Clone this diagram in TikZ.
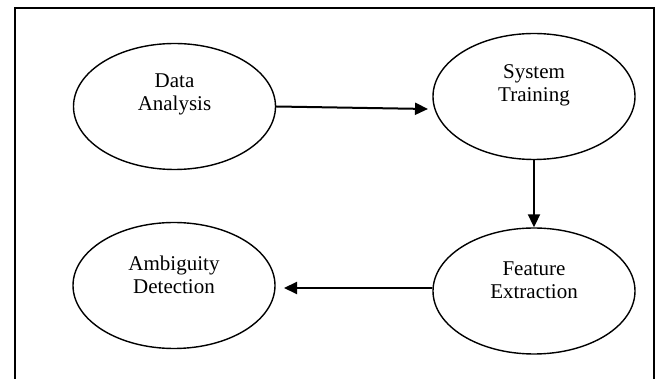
\documentclass[tikz,border=0pt]{standalone}
\usepackage{fontspec}
\setmainfont{Liberation Serif}
\usetikzlibrary{shapes.geometric,arrows.meta,calc}
\begin{document}
\begin{tikzpicture}[x=1pt,y=-1pt,
  oval/.style={draw,line width=1.4pt,ellipse,minimum width=202pt,minimum height=126pt,inner sep=0pt},
  lbl/.style={align=center,font=\fontsize{21}{23}\selectfont,inner sep=0pt},
  conn/.style={line width=2pt,-{Triangle[length=13pt,width=12pt]}}]
\useasboundingbox (0,0) rectangle (657,379);
\draw[line width=1.4pt] (15,379) -- (15,8) -- (654,8) -- (654,379);
\node[oval] (da) at (174.5,106.5) {};
\node[oval] (st) at (534,96.5) {};
\node[oval] (fe) at (534,291) {};
\node[oval] (ad) at (174,285.5) {};
\node[lbl] (tda) at ($(da.center)+(0,-12)$) {Data\\Analysis};
\node[lbl] (tst) at ($(st.center)+(0,-11)$) {System\\Training};
\node[lbl] (tfe) at ($(fe.center)+(0,-11)$) {Feature\\Extraction};
\node[lbl] (tad) at ($(ad.center)+(0,-11)$) {Ambiguity\\Detection};
\coordinate (t1) at (428,109);
\coordinate (t3) at (284,288);
\draw[conn] (da.east) -- (t1);
\draw[conn] (st.south) -- (fe.north);
\draw[conn] (fe.west |- t3) -- (t3);
\end{tikzpicture}
\end{document}
